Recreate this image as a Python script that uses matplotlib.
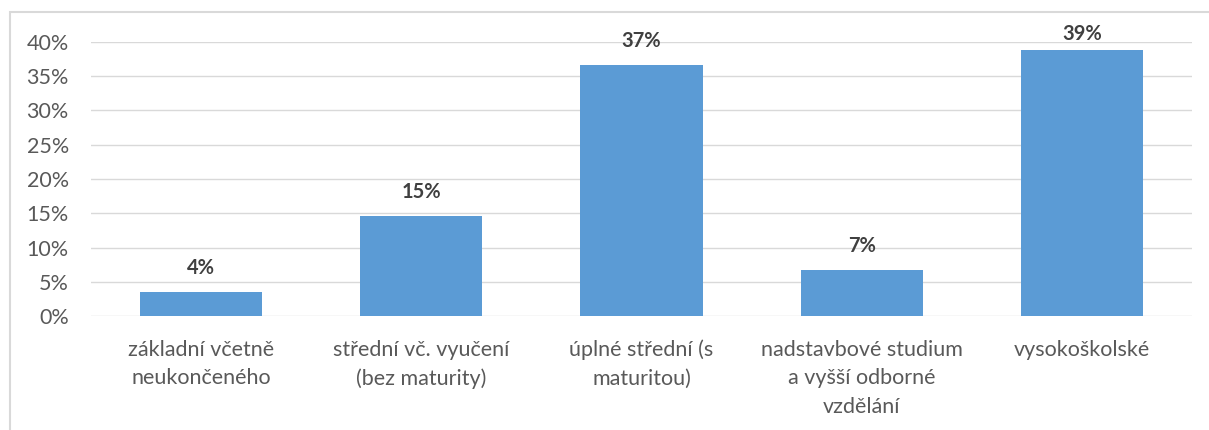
import matplotlib
matplotlib.use("Agg")
import matplotlib.pyplot as plt
from matplotlib.patches import Rectangle
from matplotlib.ticker import FuncFormatter

plt.rcParams['font.family'] = ['Lato', 'DejaVu Sans']

categories = ["základní včetně\nneukončeného",
              "střední vč. vyučení\n(bez maturity)",
              "úplné střední (s\nmaturitou)",
              "nadstavbové studium\na vyšší odborné\nvzdělání",
              "vysokoškolské"]
shares = [3.5, 14.6, 36.7, 6.7, 38.8]
yticks = [0, 5, 10, 15, 20, 25, 30, 35, 40]

fig = plt.figure(figsize=(12.09, 4.30), dpi=100)
ax = fig.add_axes([91/1209, 1 - 316/430, 1101/1209, 274/430])

x = range(len(categories))
bars = ax.bar(x, shares, width=0.555, color='#5b9bd5', zorder=3)

# value labels sit above the bars but are kept just over the top gridline
for rect, v in zip(bars, shares):
    ax.text(rect.get_x() + rect.get_width() / 2, min(v + 2.6, 40.3),
            f"{v:.0f}%", ha='center', va='baseline', fontsize=14.5,
            fontweight='bold', color='#404040', clip_on=False)

ax.set_xlim(-0.5, len(categories) - 0.5)
ax.set_ylim(0, 40)
ax.set_yticks(yticks)
ax.yaxis.set_major_formatter(FuncFormatter(lambda v, p: f"{v:.0f}%"))
ax.set_xticks(list(x))
ax.set_xticklabels(categories, linespacing=1.55)
ax.tick_params(axis='both', length=0, labelsize=15.5, colors='#595959')
ax.tick_params(axis='x', pad=17)
ax.tick_params(axis='y', pad=16)
ax.grid(axis='y', color='#d9d9d9', linewidth=1, zorder=0)
for s in ax.spines.values():
    s.set_visible(False)

# light frame around the chart area
fig.patches.append(Rectangle((10/1209, -0.1), 1.2, 1.1 - 12/430,
                             transform=fig.transFigure, fill=False,
                             edgecolor='#d9d9d9', linewidth=1.5))

fig.savefig("out.png", dpi=100, facecolor='white')
